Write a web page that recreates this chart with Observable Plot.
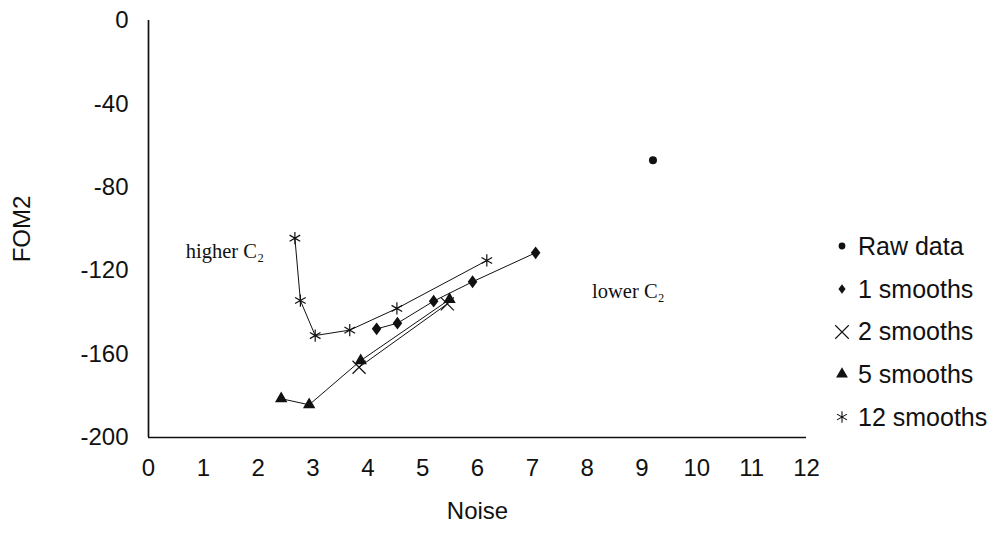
<!DOCTYPE html>
<html><head><meta charset="utf-8">
<script src="https://cdn.jsdelivr.net/npm/d3@7"></script>
<script src="https://cdn.jsdelivr.net/npm/@observablehq/plot@0.6"></script>
<style>
body{margin:0;background:#fff;}
#wrap{position:relative;width:996px;height:533px;overflow:hidden;}
#legend{position:absolute;left:830px;top:225px;font-family:"Liberation Sans",Arial,sans-serif;font-size:25px;color:#111;}
.row{height:42.7px;display:flex;align-items:center;}
.row svg{width:24px;height:24px;margin-right:4px;}
</style></head><body><div id="wrap"></div>
<script>
// ---- data ----
const seriesNames = ["Raw data", "1 smooths", "2 smooths", "5 smooths", "12 smooths"];
const rawNoise = [9.2];
const rawFOM = [-67];
const s1Noise = [4.16, 4.54, 5.20, 5.91, 7.06];
const s1FOM = [-147.9, -145.2, -134.6, -125.3, -111.4];
const s2Noise = [3.84, 5.45];
const s2FOM = [-166.3, -135.9];
const s5Noise = [2.42, 2.93, 3.87, 5.49];
const s5FOM = [-181.4, -184.3, -163.1, -133.8];
const s12Noise = [2.67, 2.77, 3.04, 3.67, 4.53, 6.17];
const s12FOM = [-104.4, -134.3, -151.1, -148.5, -138.1, -115.1];
const xTicks = [0, 1, 2, 3, 4, 5, 6, 7, 8, 9, 10, 11, 12];
const yTicks = [0, -40, -80, -120, -160, -200];
const noteText = ["higher C₂", "lower C₂"];
const noteNoise = [0.68, 8.09];
const noteFOM = [-114.1, -133.3];

// ---- build ----
const pts = (xs, ys) => xs.map((x, i) => ({x, y: ys[i]}));
const raw = pts(rawNoise, rawFOM);
const s1 = pts(s1Noise, s1FOM);
const s2 = pts(s2Noise, s2FOM);
const s5 = pts(s5Noise, s5FOM);
const s12 = pts(s12Noise, s12FOM);
const notes = noteText.map((t, i) => ({t, x: noteNoise[i], y: noteFOM[i]}));

// a slightly wider filled diamond than d3's default
const wideDiamond = {
  draw(ctx, size) {
    const h = Math.sqrt(size) * 0.75, w = h * 0.75;
    ctx.moveTo(0, -h); ctx.lineTo(w, 0); ctx.lineTo(0, h); ctx.lineTo(-w, 0); ctx.closePath();
  }
};

const symbols = [
  {type: d3.symbolCircle, r: 4, fill: "#111", stroke: "none", lr: 3.4},
  {type: wideDiamond, r: 4.8, fill: "#111", stroke: "none", lr: 3.6},
  {type: d3.symbolTimes, r: 6, fill: "none", stroke: "#111", lr: 6.2},
  {type: d3.symbolTriangle, r: 4.6, fill: "#111", stroke: "none", lr: 4.4},
  {type: d3.symbolAsterisk, r: 5.8, fill: "none", stroke: "#111", lr: 5.4}
];
const series = [raw, s1, s2, s5, s12];

const marks = [
  Plot.ruleX([0], {stroke: "#111", strokeWidth: 1.7}),
  Plot.ruleY([-200], {stroke: "#111", strokeWidth: 1.7}),
  Plot.axisX({ticks: xTicks, tickSize: 0, tickPadding: 21, label: null, tickFormat: d => String(d)}),
  Plot.axisY({ticks: yTicks, tickSize: 0, tickPadding: 20, label: null, tickFormat: d => String(d)}),
  Plot.text(["Noise"], {frameAnchor: "bottom", dy: 74, lineAnchor: "middle", textAnchor: "middle", fontSize: 24}),
  Plot.text(["FOM2"], {frameAnchor: "left", dx: -126, rotate: -90, textAnchor: "middle", lineAnchor: "middle", fontSize: 24}),
  Plot.text(notes, {x: "x", y: "y", text: "t", textAnchor: "start", lineAnchor: "bottom", fontFamily: "Liberation Serif, Times New Roman, serif", fontSize: 20.5, fill: "#111"})
];
series.forEach((s) => {
  if (s.length > 1) marks.push(Plot.line(s, {x: "x", y: "y", stroke: "#111", strokeWidth: 1}));
});
series.forEach((s, i) => {
  const sy = symbols[i];
  marks.push(Plot.dot(s, {x: "x", y: "y", symbol: sy.type, r: sy.r, fill: sy.fill, stroke: sy.stroke, strokeWidth: 1.2}));
});

const chart = Plot.plot({
  width: 996,
  height: 533,
  marginLeft: 148,
  marginRight: 190,
  marginTop: 20,
  marginBottom: 96,
  x: {domain: [0, 12]},
  y: {domain: [-200, 0]},
  style: {fontFamily: "Liberation Sans, Arial, sans-serif", fontSize: "24px", color: "#111", background: "#fff"},
  marks
});
const wrap = document.getElementById("wrap");
wrap.appendChild(chart);

// legend
const legend = document.createElement("div");
legend.id = "legend";
seriesNames.forEach((name, i) => {
  const sy = symbols[i];
  const row = document.createElement("div");
  row.className = "row";
  const svg = d3.create("svg").attr("viewBox", "-12 -12 24 24");
  svg.append("path")
    .attr("d", d3.symbol(sy.type, Math.PI * sy.lr * sy.lr)())
    .attr("fill", sy.fill).attr("stroke", sy.stroke).attr("stroke-width", 1.1);
  row.appendChild(svg.node());
  const span = document.createElement("span");
  span.textContent = name;
  row.appendChild(span);
  legend.appendChild(row);
});
wrap.appendChild(legend);
</script>
</body></html>
